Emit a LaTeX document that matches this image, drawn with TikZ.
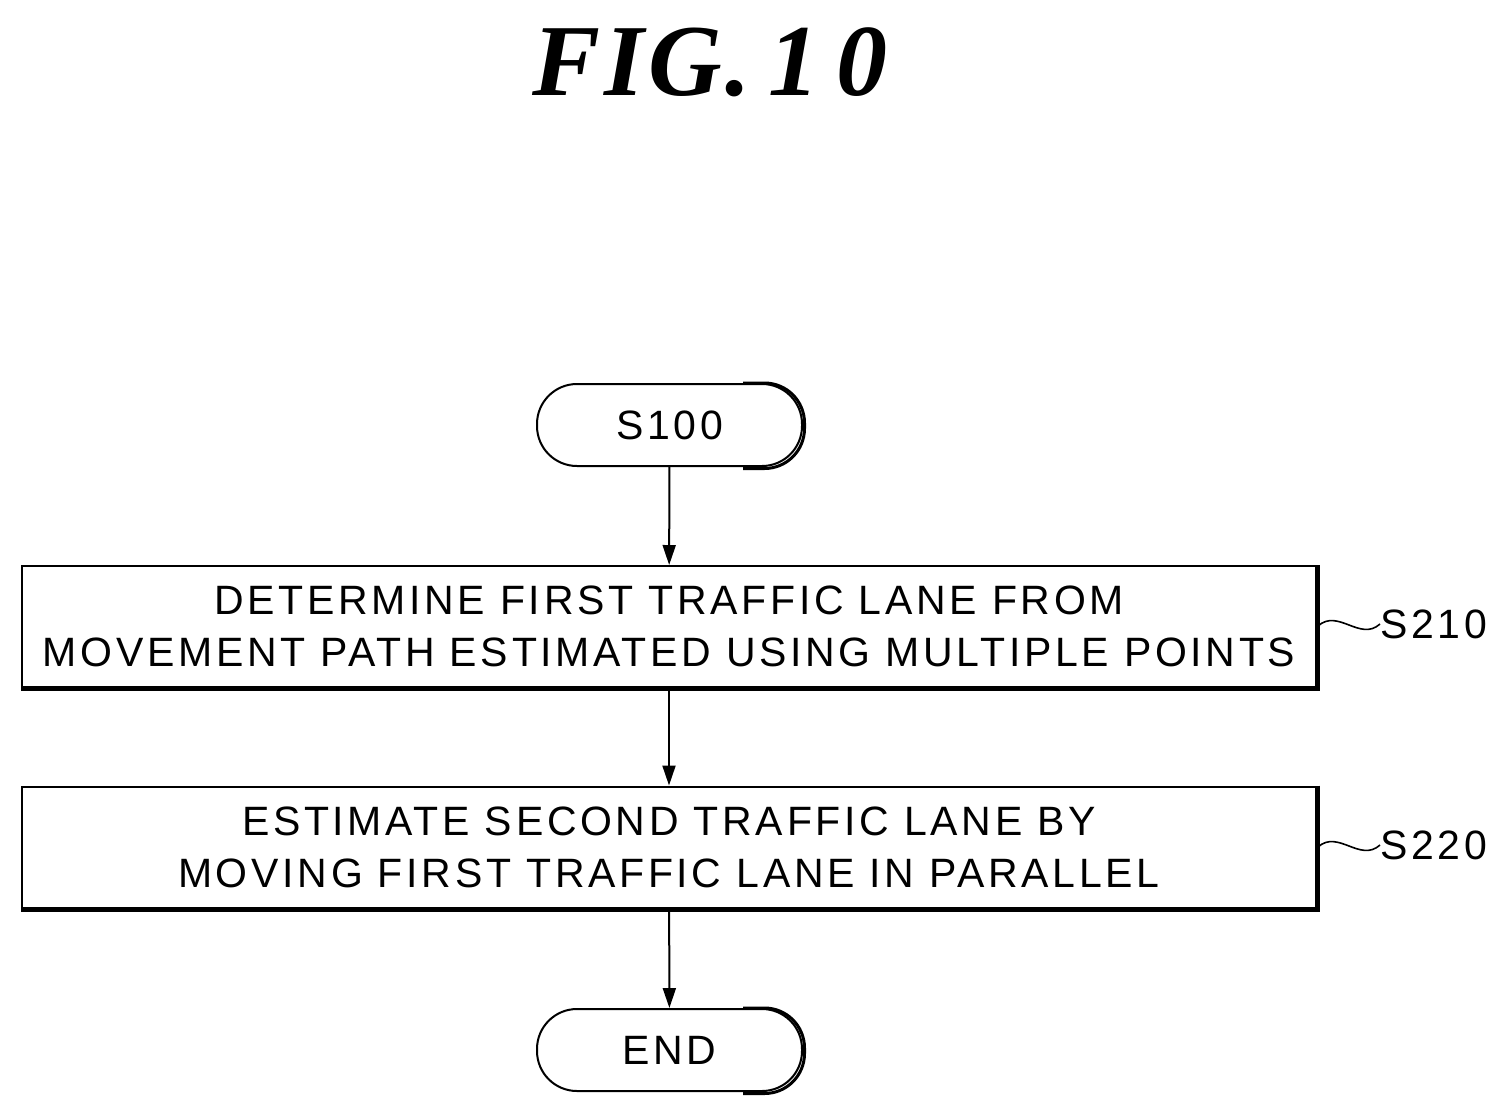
\documentclass[tikz,border=0pt]{standalone}
\usepackage{fontspec}
\setmainfont{Liberation Sans}[LetterSpace=9]
\newfontfamily\titlefont{Liberation Serif}[LetterSpace=4]
\usetikzlibrary{arrows.meta}
\begin{document}
\begin{tikzpicture}[x=1pt,y=-1pt,
  txt/.style={font=\fontsize{41}{52}\selectfont, align=center},
  term/.style={txt, draw, line width=2pt, rounded corners=40pt, minimum width=265pt, minimum height=82pt, inner sep=0pt},
  box/.style={txt, draw, line width=2pt, minimum width=1294pt, minimum height=121pt, inner sep=0pt},
  arr/.style={line width=2pt, -{Triangle[length=20pt,width=13pt]}},
  lab/.style={font=\fontsize{41}{48}\selectfont, anchor=west, inner sep=0pt}]
\useasboundingbox (0,0) rectangle (1510,1112);
\node[font=\titlefont\fontsize{102}{110}\selectfont\bfseries\itshape] (title) at (710,62) {FIG.\,1\,0};
\node[term] (s100) at (669.5,425) {S100};
\node[box] (b1) at (669,626.5) {DETERMINE FIRST TRAFFIC LANE FROM\\MOVEMENT PATH ESTIMATED USING MULTIPLE POINTS};
\node[box] (b2) at (669,847) {ESTIMATE SECOND TRAFFIC LANE BY\\MOVING FIRST TRAFFIC LANE IN PARALLEL};
\node[term] (end) at (669.5,1050) {END};
\foreach \n in {s100,end}{
  \draw[line width=3pt, rounded corners=40pt] ([shift={(-60,0)}]\n.north east) -- ([shift={(1.5,0)}]\n.north east) -- ([shift={(1.5,1.5)}]\n.south east) -- ([shift={(-60,1.5)}]\n.south east);}
\foreach \n in {b1,b2}{
  \draw[line width=4pt] ([shift={(1,0)}]\n.north east) -- ([shift={(1,1)}]\n.south east) -- ([shift={(0,1)}]\n.south west);}
\draw[arr] (s100) -- (b1);
\draw[arr] (b1) -- (b2);
\draw[arr] (b2) -- (end);
\coordinate (c1) at (1318,626);
\coordinate (c2) at (1318,847);
\node[lab] (l1) at (1380,624) {S210};
\node[lab] (l2) at (1380,845) {S220};
\foreach \c/\l in {c1/l1,c2/l2}{
  \draw[line width=1.6pt] (\c) .. controls ++(20,-18) and ++(-20,18) .. (\l.west);}
\end{tikzpicture}
\end{document}
